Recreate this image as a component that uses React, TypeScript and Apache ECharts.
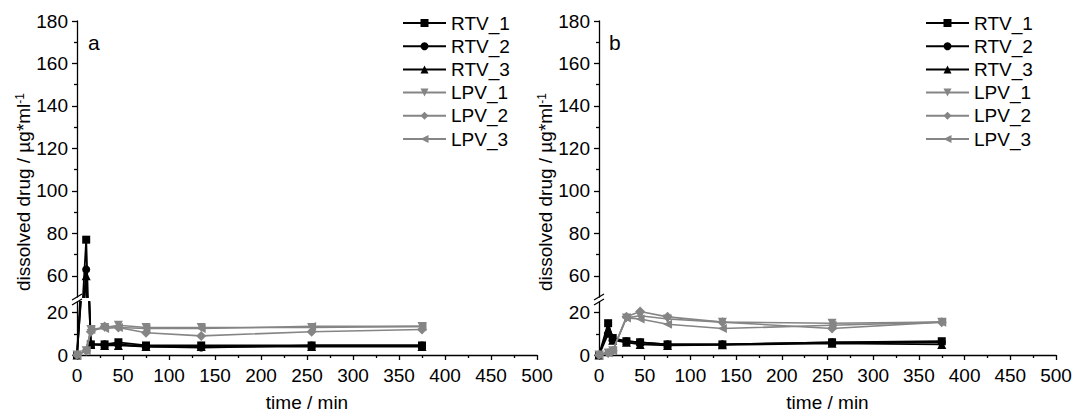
import React, { useEffect, useRef } from "react";
import * as echarts from "echarts";

// ---------- data ----------
const times = [0, 10, 15, 30, 45, 75, 135, 255, 375];
const seriesNames = ["RTV_1", "RTV_2", "RTV_3", "LPV_1", "LPV_2", "LPV_3"];

// panel a
const aRTV1 = [0, 77, 5, 5, 6, 4.5, 4.5, 4.5, 4.5];
const aRTV2 = [0, 63, 5, 5, 5, 4, 3.5, 4.5, 4.5];
const aRTV3 = [0, 60, 5, 4.5, 4.5, 4, 4, 4, 4];
const aLPV1 = [0, 2, 12, 13, 14, 13, 13, 13, 13.5];
const aLPV2 = [0, 2, 11, 13.5, 13, 10.5, 9, 11, 12];
const aLPV3 = [0, 2, 12, 12.5, 13, 12.5, 12.5, 13.5, 13.5];

// panel b
const bRTV1 = [0, 15, 8, 6.5, 6, 5, 5, 6, 6.5];
const bRTV2 = [0, 10, 7, 6.5, 6, 5, 5, 6, 6];
const bRTV3 = [0, 12, 7, 6, 5, 4.5, 4.8, 5.5, 5];
const bLPV1 = [0, 1, 2, 17.5, 18.5, 17, 15.5, 15, 15.5];
const bLPV2 = [0, 1, 2, 18, 20.5, 18, 15.5, 12.5, 15.5];
const bLPV3 = [0, 1, 2, 17.5, 17, 14.5, 12.5, 14, 15.5];

const panelData = [
  [aRTV1, aRTV2, aRTV3, aLPV1, aLPV2, aLPV3],
  [bRTV1, bRTV2, bRTV3, bLPV1, bLPV2, bLPV3],
];
const panelLetters = ["a", "b"];

// axis ranges / ticks
const xMin = 0;
const xMax = 500;
const xInterval = 50;
const upperRange = [50, 180];
const lowerRange = [0, 25];
const upperMajor = [60, 80, 100, 120, 140, 160, 180];
const upperMinor = [70, 90, 110, 130, 150, 170];
const lowerMajor = [0, 20];
const lowerMinor = [10];

// ---------- styles / layout ----------
const FONT = "'Liberation Sans', Arial, Helvetica, sans-serif";
const FS = 19;
const BLACK = "#000000";
const GREY = "#858585";
const symbolOf = ["rect", "circle", "triangle", "triangle", "diamond", "triangle"];
const rotateOf = [0, 0, 0, 180, 0, 90];
const sizeOf = [8, 8, 9, 9, 10, 9];
const colorOf = [BLACK, BLACK, BLACK, GREY, GREY, GREY];
const widthOf = [1.8, 1.8, 1.8, 1.6, 1.6, 1.6];

const TOP = 21;
const UPPER_H = 276;
const LOWER_TOP = 302;
const LOWER_H = 53;
const PANELS = [
  { left: 77, width: 460, legendLeft: 397, titleX: 23, letterX: 88 },
  { left: 599, width: 457, legendLeft: 920, titleX: 545, letterX: 609 },
];

export default function App() {
  const ref = useRef<HTMLDivElement>(null);

  useEffect(() => {
    document.body.style.margin = "0";
    if (!ref.current) return;
    const chart = echarts.init(ref.current, undefined, { renderer: "svg" });

    const grids: any[] = [];
    const xAxes: any[] = [];
    const yAxes: any[] = [];
    const series: any[] = [];
    const legends: any[] = [];
    const graphics: any[] = [];

    PANELS.forEach((P, p) => {
      [0, 1].forEach((part) => {
        const g = p * 2 + part;
        const isUpper = part === 0;
        grids.push({
          left: P.left,
          width: P.width,
          top: isUpper ? TOP : LOWER_TOP,
          height: isUpper ? UPPER_H : LOWER_H,
          containLabel: false,
          outerBoundsMode: "none",
        });
        xAxes.push({
          gridIndex: g,
          type: "value",
          min: xMin,
          max: xMax,
          interval: xInterval,
          show: !isUpper,
          axisLine: { show: true, onZero: false, lineStyle: { color: BLACK, width: 1.3 } },
          axisTick: { show: true, inside: false, length: 5, lineStyle: { color: BLACK, width: 1.3 } },
          minorTick: { show: true, splitNumber: 2, length: 3, lineStyle: { color: BLACK, width: 1.3 } },
          axisLabel: { fontSize: FS, fontFamily: FONT, color: BLACK, margin: 11 },
          splitLine: { show: false },
          minorSplitLine: { show: false },
          name: isUpper ? "" : "time / min",
          nameLocation: "middle",
          nameGap: 38,
          nameTextStyle: { fontSize: FS, fontFamily: FONT, color: BLACK },
        });
        const range = isUpper ? upperRange : lowerRange;
        const major = isUpper ? upperMajor : lowerMajor;
        const minor = isUpper ? upperMinor : lowerMinor;
        yAxes.push({
          gridIndex: g,
          type: "value",
          min: range[0],
          max: range[1],
          axisLine: { show: true, onZero: false, lineStyle: { color: BLACK, width: 1.3 } },
          axisTick: { show: true, inside: false, length: 5, customValues: major, lineStyle: { color: BLACK, width: 1.3 } },
          axisLabel: { customValues: major, fontSize: FS, fontFamily: FONT, color: BLACK, margin: 9 },
          splitLine: { show: false },
        });
        yAxes.push({
          gridIndex: g,
          type: "value",
          min: range[0],
          max: range[1],
          position: "left",
          axisLine: { show: false },
          axisTick: { show: true, inside: false, length: 3, customValues: minor, lineStyle: { color: BLACK, width: 1.3 } },
          axisLabel: { show: false },
          splitLine: { show: false },
        });
        seriesNames.forEach((name, i) => {
          series.push({
            type: "line",
            name,
            xAxisIndex: g,
            yAxisIndex: g * 2,
            data: times.map((t, k) => [t, panelData[p][i][k]]),
            symbol: symbolOf[i],
            symbolRotate: rotateOf[i],
            symbolSize: sizeOf[i],
            showAllSymbol: true,
            clip: true,
            color: colorOf[i],
            lineStyle: { color: colorOf[i], width: widthOf[i] },
            itemStyle: { color: colorOf[i] },
            z: i < 3 ? 2 : 3,
          });
        });
      });

      legends.push({
        orient: "vertical",
        left: P.legendLeft,
        top: 8,
        itemWidth: 43,
        itemHeight: 10,
        itemGap: 3.2,
        selectedMode: false,
        data: seriesNames,
        textStyle: { fontSize: FS, fontFamily: FONT, color: BLACK, lineHeight: 20 },
      });

      // panel letter
      graphics.push({
        type: "text",
        x: P.letterX,
        y: 42,
        style: { text: panelLetters[p], fontSize: 21, fontFamily: FONT, fill: BLACK, verticalAlign: "middle" },
      });
      // y-axis title
      graphics.push({
        type: "text",
        x: P.titleX,
        y: 192,
        rotation: Math.PI / 2,
        style: {
          text: "dissolved drug / µg*ml{sup|-1}",
          fontSize: FS,
          fontFamily: FONT,
          fill: BLACK,
          align: "center",
          verticalAlign: "middle",
          rich: {
            sup: { fontSize: 12, fontFamily: FONT, fill: BLACK, verticalAlign: "top", lineHeight: 19 },
          },
        },
      });
      // axis break marks
      const y1 = TOP + UPPER_H;
      const y2 = LOWER_TOP;
      [y1, y2].forEach((yy) => {
        graphics.push({
          type: "line",
          shape: { x1: P.left - 5, y1: yy + 3, x2: P.left + 5, y2: yy - 3 },
          style: { stroke: BLACK, lineWidth: 1.3 },
          z: 10,
        });
      });
    });

    chart.setOption({
      animation: false,
      backgroundColor: "#ffffff",
      textStyle: { fontFamily: FONT },
      grid: grids,
      xAxis: xAxes,
      yAxis: yAxes,
      legend: legends,
      series,
      graphic: graphics,
    });

    return () => chart.dispose();
  }, []);

  return (
    <div
      ref={ref}
      style={{ position: "absolute", left: 0, top: 0, width: 1072, height: 414 }}
    />
  );
}
